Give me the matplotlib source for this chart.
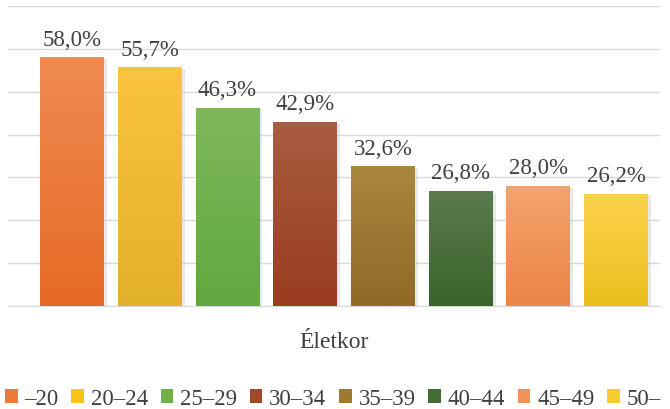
import matplotlib.pyplot as plt
import matplotlib.colors as mcolors
from matplotlib.patches import Patch
import numpy as np

# Age groups and their shares
groups = ['–20', '20–24', '25–29', '30–34', '35–39', '40–44', '45–49', '50–']
shares = [58.0, 55.7, 46.3, 42.9, 32.6, 26.8, 28.0, 26.2]

# gradient colours of each bar (top, bottom)
topColors = ['#F08A52', '#FAC340', '#7DB85C', '#A85D40', '#A8873E', '#5B7B4E', '#F4A36E', '#FDD24E']
bottomColors = ['#E66A25', '#E2B12C', '#62A83E', '#9A3C20', '#8F6B26', '#3A642A', '#EC8546', '#EABF1E']
legendColors = ['#EC7A3A', '#FCC419', '#6FB04A', '#A14A2A', '#9E7A2E', '#466C35', '#F2935A', '#F8CB2E']

plt.rcParams['font.family'] = ['Liberation Serif', 'DejaVu Serif']

fig = plt.figure(figsize=(6.7, 4.1), dpi=100)
ax = fig.add_axes([0.012, 0.251, 0.973, 0.732])

x = np.arange(len(groups))
width = 0.82

for i in range(len(groups)):
    # soft shadow behind the bar
    ax.bar(x[i] + 0.02, shares[i], width + 0.04, bottom=-0.4, color='#c8c8c8', alpha=0.4, zorder=2)
    bar = ax.bar(x[i], shares[i], width, color='none', zorder=3)[0]
    cmap = mcolors.LinearSegmentedColormap.from_list('g', [bottomColors[i], topColors[i]])
    grad = np.linspace(0, 1, 100).reshape(-1, 1)
    img = ax.imshow(grad, cmap=cmap, origin='lower', aspect='auto',
                    extent=[x[i] - width / 2, x[i] + width / 2, 0, shares[i]], zorder=3)
    img.set_clip_path(bar)
    ax.text(x[i], shares[i] + 1.8, f'{shares[i]:.1f}%'.replace('.', ','),
            ha='center', va='bottom', fontsize=16.5, color='#404040', zorder=4)

ax.set_xlim(-0.824, 7.566)
ax.set_ylim(0, 70)
ax.set_yticks(np.arange(0, 71, 10))
ax.yaxis.grid(True, color='#d9d9d9', linewidth=1)
ax.set_axisbelow(True)
ax.tick_params(left=False, bottom=False, labelleft=False, labelbottom=False)
for side in ['top', 'right', 'left']:
    ax.spines[side].set_visible(False)
ax.spines['bottom'].set_color('#d9d9d9')
ax.set_xlabel('Életkor', fontsize=17, color='#404040', labelpad=18)

handles = [Patch(facecolor=c, label=g) for c, g in zip(legendColors, groups)]
fig.legend(handles=handles, loc='lower center', bbox_to_anchor=(0.497, -0.045), ncol=8,
           frameon=False, fontsize=16.5, handlelength=0.55, handleheight=0.55,
           handletextpad=0.3, columnspacing=0.55, borderpad=0.3, labelcolor='#404040')

fig.savefig('out.png', dpi=100)
